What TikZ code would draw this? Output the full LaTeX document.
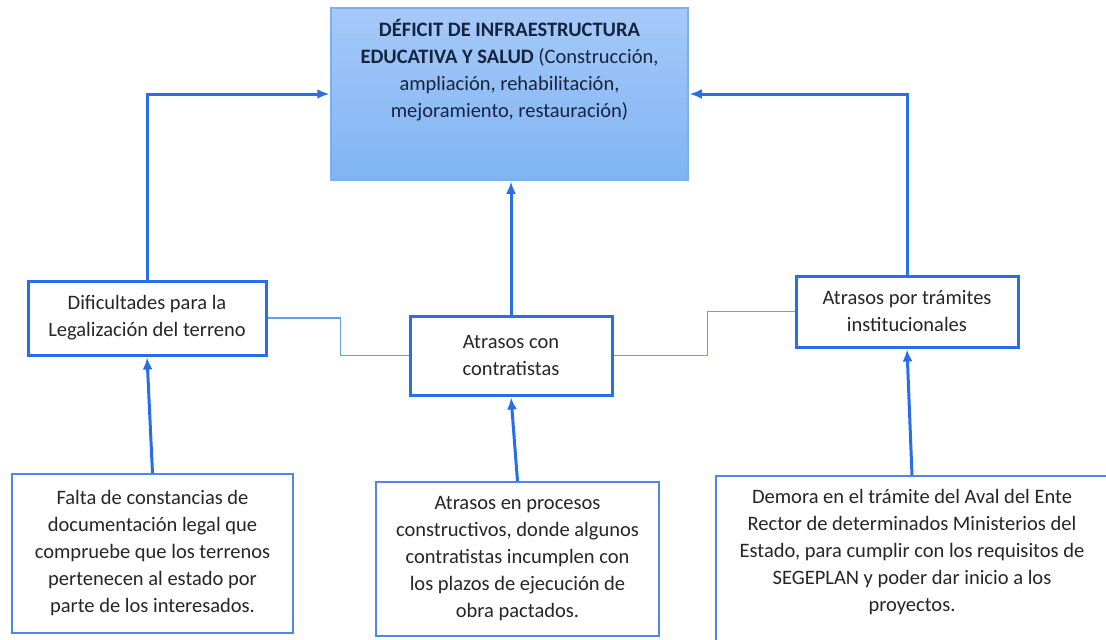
\documentclass[tikz,border=0pt]{standalone}
\usepackage{fontspec}
\setmainfont{Carlito}
\usepackage{tikz}
\usetikzlibrary{arrows.meta,positioning,calc}
\usepackage{xcolor}
\definecolor{boxblue}{RGB}{40,110,232}
\definecolor{detailblue}{RGB}{78,135,232}
\definecolor{linkblue}{RGB}{95,160,242}
\definecolor{topblue}{RGB}{125,175,240}
\definecolor{toplight}{RGB}{166,201,248}
\definecolor{topdark}{RGB}{128,180,244}
\definecolor{navytext}{RGB}{22,36,62}

\begin{document}
\begin{tikzpicture}[x=1pt,y=-1pt,
	  every node/.style={align=center,text=black!85,font=\fontsize{20.5}{27}\selectfont},
	  problem/.style={draw=topblue,line width=1.5pt,top color=toplight,bottom color=topdark,inner sep=0pt},
	  problemtext/.style={inner sep=0pt,text=navytext},
	  detailtext/.style={inner sep=0pt},
	  cause/.style={draw=boxblue,line width=3pt,fill=white,inner sep=0pt},
	  detail/.style={draw=detailblue,line width=1.5pt,fill=white,inner sep=0pt},
	  to/.style={-{Latex[length=12pt,width=10pt]},shorten >=1pt,draw=boxblue,line width=3pt},
	  link/.style={draw=linkblue,line width=1.5pt}]

	  \useasboundingbox (0,0) rectangle (1106,640);

	  % Position the nodes at their centres
	  \node[problem,minimum width=357,minimum height=172] (deficit) at (509.5,94) {};
	  \node[problemtext,below=12pt of deficit.north] (deficittext) {\textbf{DÉFICIT DE INFRAESTRUCTURA}\\\textbf{EDUCATIVA Y SALUD} (Construcción,\\ampliación, rehabilitación,\\mejoramiento, restauración)};

	  \node[cause,minimum width=238,minimum height=74] (legal) at (147,318) {Dificultades para la\\Legalización del terreno};
	  \node[cause,minimum width=202,minimum height=79] (contratistas) at (511,355.5) {Atrasos con\\contratistas};
	  \node[cause,minimum width=222,minimum height=71] (tramites) at (907,311.5) {Atrasos por trámites\\institucionales};

	  \node[detail,minimum width=281,minimum height=159] (documentos) at (152.5,553.5) {Falta de constancias de\\documentación legal que\\compruebe que los terrenos\\pertenecen al estado por\\parte de los interesados.};
	  \node[detail,minimum width=283,minimum height=154] (procesos) at (517.5,559) {Atrasos en procesos\\constructivos, donde algunos\\contratistas incumplen con\\los plazos de ejecución de\\obra pactados.};
	  \node[detail,minimum width=392,minimum height=176] (demora) at (912,564) {};
	  \node[detailtext,below=14pt of demora.north] (demoratext) {Demora en el trámite del Aval del Ente\\Rector de determinados Ministerios del\\Estado, para cumplir con los requisitos de\\SEGEPLAN y poder dar inicio a los\\proyectos.};

	  % Connectors
	  \draw[to] (legal.north) |- (deficit.west);
	  \draw[to] (tramites.north) |- (deficit.east);
	  \draw[to] (contratistas.north) -- (contratistas.north |- deficit.south);
	  \draw[to] (documentos.north) -- (legal.south);
	  \draw[to] (procesos.north) -- (contratistas.south);
	  \draw[to] (demora.north) -- (tramites.south);
	  \draw[link] (legal.east) -- ++(73,0) |- (contratistas.west);
	  \draw[link] (contratistas.east) -- ++(94,0) |- (tramites.west);
\end{tikzpicture}
\end{document}
